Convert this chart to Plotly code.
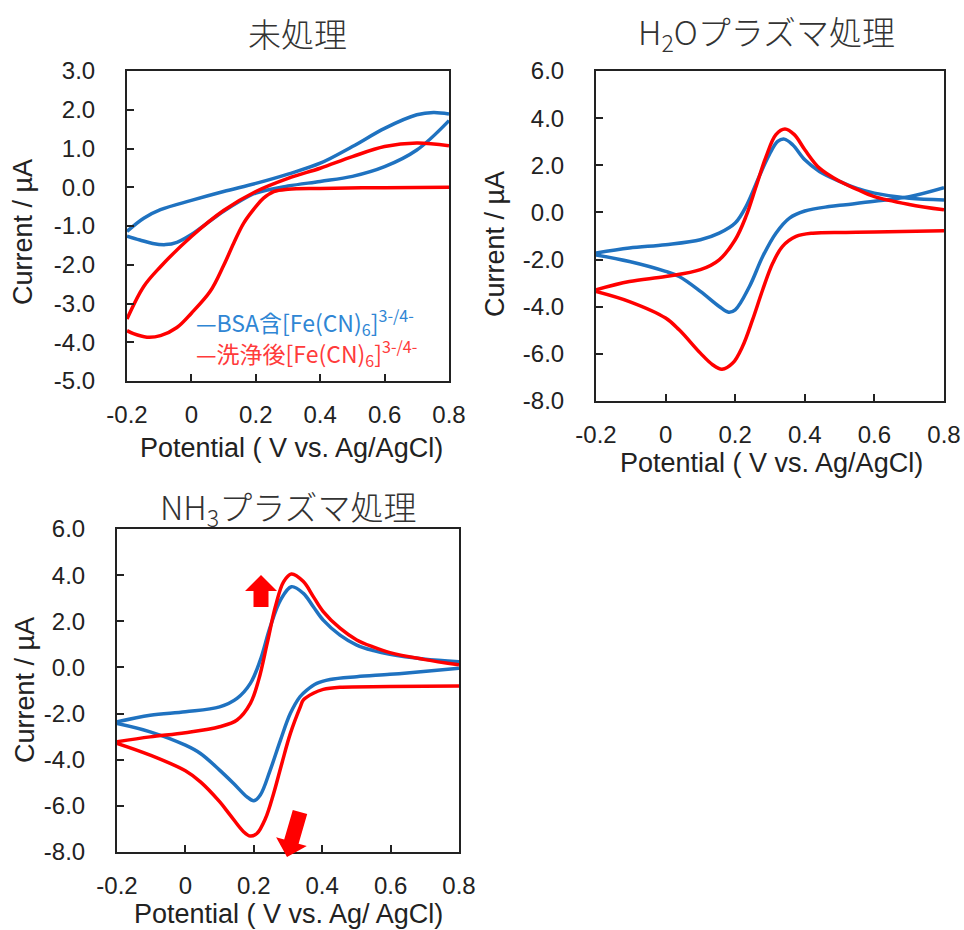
import plotly.graph_objects as go
import math

W, H = 964, 930

# ---------------- data ----------------
# Panel 1: 未処理
p1_blue_x = [-0.2, -0.148, -0.096, 0.0, 0.1, 0.2, 0.3, 0.4, 0.5, 0.6, 0.7, 0.752, 0.8, None,
             0.8, 0.7, 0.6, 0.5, 0.4, 0.3, 0.2, 0.15, 0.1, 0.05, 0.0, -0.045, -0.08, -0.12, -0.16, -0.2]
p1_blue_y = [-1.14, -0.80, -0.58, -0.34, -0.11, 0.10, 0.34, 0.62, 1.05, 1.52, 1.87, 1.93, 1.89, None,
             1.72, 0.96, 0.53, 0.28, 0.15, 0.03, -0.15, -0.36, -0.62, -0.92, -1.22, -1.42, -1.48, -1.45, -1.36, -1.26]
p1_red_x = [-0.2, -0.148, -0.096, 0.0, 0.1, 0.2, 0.3, 0.4, 0.5, 0.6, 0.7, 0.8, None,
            0.8, 0.6, 0.4, 0.3, 0.256, 0.224, 0.2, 0.162, 0.131, 0.1, 0.059, 0.0, -0.045, -0.096, -0.138, -0.18, -0.2]
p1_red_y = [-3.40, -2.56, -2.05, -1.27, -0.60, -0.11, 0.23, 0.49, 0.79, 1.05, 1.14, 1.07, None,
            0.0, -0.01, -0.03, -0.05, -0.11, -0.28, -0.50, -0.93, -1.45, -2.02, -2.68, -3.25, -3.62, -3.83, -3.87, -3.78, -3.70]

# Panel 2: H2Oプラズマ処理
p2_blue_x = [-0.2, -0.104, 0.0, 0.1, 0.154, 0.2, 0.231, 0.269, 0.298, 0.322, 0.341, 0.365, 0.4, 0.442, 0.5, 0.55, 0.6, 0.7, 0.8, None,
             0.8, 0.7, 0.6, 0.518, 0.47, 0.4, 0.356, 0.317, 0.279, 0.241, 0.2, 0.181, 0.154, 0.1, 0.039, 0.0, -0.104, -0.2]
p2_blue_y = [-1.72, -1.51, -1.37, -1.16, -0.88, -0.45, 0.25, 1.53, 2.45, 3.01, 3.11, 2.87, 2.23, 1.74, 1.32, 1.02, 0.82, 0.60, 0.53, None,
             1.05, 0.67, 0.47, 0.33, 0.25, 0.06, -0.24, -0.88, -1.87, -3.14, -4.13, -4.23, -3.99, -3.35, -2.72, -2.50, -2.08, -1.80]
p2_red_x = [-0.2, -0.104, 0.0, 0.1, 0.154, 0.2, 0.231, 0.26, 0.289, 0.317, 0.343, 0.37, 0.4, 0.442, 0.5, 0.55, 0.6, 0.7, 0.8, None,
            0.8, 0.6, 0.518, 0.423, 0.375, 0.336, 0.308, 0.279, 0.25, 0.221, 0.193, 0.162, 0.135, 0.1, 0.039, 0.0, -0.104, -0.2]
p2_red_y = [-3.28, -2.93, -2.72, -2.43, -2.01, -1.16, -0.17, 1.10, 2.38, 3.30, 3.54, 3.30, 2.66, 1.88, 1.32, 0.98, 0.67, 0.34, 0.11, None,
            -0.78, -0.83, -0.85, -0.88, -1.02, -1.44, -2.15, -3.28, -4.55, -5.69, -6.39, -6.65, -6.46, -5.97, -4.98, -4.48, -3.78, -3.35]

# Panel 3: NH3プラズマ処理
p3_blue_x = [-0.2, -0.103, 0.0, 0.1, 0.151, 0.19, 0.219, 0.248, 0.278, 0.31, 0.345, 0.374, 0.403, 0.452, 0.501, 0.55, 0.598, 0.696, 0.8, None,
             0.8, 0.696, 0.598, 0.501, 0.423, 0.384, 0.355, 0.335, 0.307, 0.278, 0.248, 0.219, 0.2, 0.18, 0.141, 0.1, 0.044, 0.0, -0.103, -0.2]
p3_blue_y = [-2.36, -2.07, -1.92, -1.71, -1.34, -0.69, 0.32, 1.76, 2.92, 3.50, 3.21, 2.63, 2.05, 1.40, 0.97, 0.73, 0.57, 0.37, 0.25, None,
             -0.04, -0.18, -0.30, -0.40, -0.52, -0.69, -0.98, -1.27, -1.99, -3.15, -4.45, -5.53, -5.78, -5.61, -5.03, -4.45, -3.73, -3.37, -2.79, -2.43]
p3_red_x = [-0.2, -0.103, 0.0, 0.1, 0.151, 0.19, 0.214, 0.239, 0.263, 0.287, 0.31, 0.345, 0.374, 0.403, 0.452, 0.501, 0.55, 0.598, 0.696, 0.8, None,
            0.8, 0.598, 0.452, 0.403, 0.374, 0.345, 0.336, 0.307, 0.282, 0.258, 0.234, 0.209, 0.19, 0.17, 0.131, 0.1, 0.044, 0.0, -0.103, -0.2]
p3_red_y = [-3.22, -3.01, -2.83, -2.57, -2.28, -1.56, -0.55, 1.04, 2.63, 3.71, 4.05, 3.72, 3.07, 2.42, 1.70, 1.19, 0.88, 0.64, 0.35, 0.11, None,
            -0.80, -0.83, -0.86, -0.95, -1.12, -1.41, -1.71, -2.86, -4.16, -5.46, -6.55, -7.20, -7.31, -7.12, -6.40, -5.82, -4.96, -4.48, -3.80, -3.29]

x_ticks = [-0.2, 0.0, 0.2, 0.4, 0.6, 0.8]
x_ticktext = ["-0.2", "0", "0.2", "0.4", "0.6", "0.8"]
y1_ticks = [3.0, 2.0, 1.0, 0.0, -1.0, -2.0, -3.0, -4.0, -5.0]
y23_ticks = [6.0, 4.0, 2.0, 0.0, -2.0, -4.0, -6.0, -8.0]

titles = ["未処理", "H<sub>2</sub>Oプラズマ処理", "NH<sub>3</sub>プラズマ処理"]
xtitles = ["Potential ( V vs. Ag/AgCl)", "Potential ( V vs. Ag/AgCl)", "Potential ( V vs. Ag/ AgCl)"]
ytitle = "Current / µA"
legend_labels = ["—BSA含[Fe(CN)<sub>6</sub>]<sup>3-/4-</sup>",
                 "—洗浄後[Fe(CN)<sub>6</sub>]<sup>3-/4-</sup>"]

BLUE = "#1f72c0"
RED = "#ff0000"
LEG_BLUE = "#2f86d4"
LEG_RED = "#ff3b3b"
NUMFONT = "Liberation Sans, Arial, sans-serif"
JPFONT = "Noto Sans CJK JP, sans-serif"

def fx(p):
    return p / W

def fy(p):
    return 1 - p / H

def ylab(v):
    return f"{v:.1f}"

# panel frames in pixels: (left, right, top, bottom)
frames = [(127, 449, 71, 381), (596, 944, 71, 401), (117, 459, 529, 852)]

fig = go.Figure()
series = [
    (p1_blue_x, p1_blue_y, p1_red_x, p1_red_y),
    (p2_blue_x, p2_blue_y, p2_red_x, p2_red_y),
    (p3_blue_x, p3_blue_y, p3_red_x, p3_red_y),
]
for i, (bx, by, rx, ry) in enumerate(series):
    suf = "" if i == 0 else str(i + 1)
    fig.add_trace(go.Scatter(x=bx, y=by, mode="lines", xaxis="x" + suf, yaxis="y" + suf,
                             line=dict(color=BLUE, width=3.5, shape="spline", smoothing=1.0),
                             showlegend=False, connectgaps=False))
    fig.add_trace(go.Scatter(x=rx, y=ry, mode="lines", xaxis="x" + suf, yaxis="y" + suf,
                             line=dict(color=RED, width=3.5, shape="spline", smoothing=1.0),
                             showlegend=False, connectgaps=False))

layout = dict(width=W, height=H, margin=dict(l=0, r=0, t=0, b=0, pad=0, autoexpand=False),
              paper_bgcolor="white", plot_bgcolor="white", showlegend=False)

yranges = [(-5, 3), (-8, 6), (-8, 6)]
ytickss = [y1_ticks, y23_ticks, y23_ticks]
for i, (l, r, t, b) in enumerate(frames):
    suf = "" if i == 0 else str(i + 1)
    ax = dict(domain=[fx(l), fx(r)], range=[-0.2, 0.8], anchor="y" + suf, automargin=False,
              showline=True, linecolor="#222222", linewidth=2, mirror=True,
              ticks="inside", ticklen=7, tickwidth=1.5, tickcolor="#222222",
              tickvals=x_ticks, ticktext=x_ticktext, showgrid=False, zeroline=False,
              tickfont=dict(family=NUMFONT, size=24, color="#222222"),
              ticklabelstandoff=11)
    ay = dict(domain=[fy(b), fy(t)], range=list(yranges[i]), anchor="x" + suf, automargin=False,
              showline=True, linecolor="#222222", linewidth=2, mirror=True,
              ticks="inside", ticklen=7, tickwidth=1.5, tickcolor="#222222",
              tickvals=ytickss[i], ticktext=[ylab(v) for v in ytickss[i]],
              showgrid=False, zeroline=False,
              tickfont=dict(family=NUMFONT, size=24, color="#222222"),
              ticklabelstandoff=25)
    layout["xaxis" + suf] = ax
    layout["yaxis" + suf] = ay

fig.update_layout(**layout)

ann = []
# panel titles
title_pos = [(297, 33), (766, 33), (288, 508)]
for txt, (x, y) in zip(titles, title_pos):
    ann.append(dict(text=txt, x=fx(x), y=fy(y), xref="paper", yref="paper",
                    showarrow=False, xanchor="center", yanchor="middle",
                    font=dict(family=JPFONT, size=33, color="#333333", weight=300)))
# x-axis titles
xt_pos = [(291, 448), (771, 463), (288, 914)]
for txt, (x, y) in zip(xtitles, xt_pos):
    ann.append(dict(text=txt, x=fx(x), y=fy(y), xref="paper", yref="paper",
                    showarrow=False, xanchor="center", yanchor="middle",
                    font=dict(family=NUMFONT, size=27, color="#222222")))
# y-axis titles
yt_pos = [(23, 232), (495, 244), (25, 690)]
for (x, y) in yt_pos:
    ann.append(dict(text=ytitle, x=fx(x), y=fy(y), xref="paper", yref="paper",
                    showarrow=False, xanchor="center", yanchor="middle", textangle=-90,
                    font=dict(family=NUMFONT, size=27, color="#222222")))
# legend texts
for txt, col, y in zip(legend_labels, [LEG_BLUE, LEG_RED], [322, 353]):
    ann.append(dict(text=txt, x=fx(194), y=fy(y), xref="paper", yref="paper",
                    showarrow=False, xanchor="left", yanchor="middle",
                    font=dict(family=JPFONT, size=23, color=col)))
fig.update_layout(annotations=ann)

# block arrows (decorations) in pixel offsets anchored in paper coords
def poly_path(pts):
    return "M " + " L ".join(f"{x:.1f},{y:.1f}" for x, y in pts) + " Z"

def arrow_pts(tip, tail, head_w=32, head_l=16, shaft_w=15):
    tx, ty = tip
    sx, sy = tail
    L = math.hypot(tx - sx, ty - sy)
    ux, uy = (tx - sx) / L, (ty - sy) / L
    nx, ny = -uy, ux
    bx, by = tx - ux * head_l, ty - uy * head_l
    pts = [
        (sx + nx * shaft_w / 2, sy + ny * shaft_w / 2),
        (bx + nx * shaft_w / 2, by + ny * shaft_w / 2),
        (bx + nx * head_w / 2, by + ny * head_w / 2),
        (tx, ty),
        (bx - nx * head_w / 2, by - ny * head_w / 2),
        (bx - nx * shaft_w / 2, by - ny * shaft_w / 2),
        (sx - nx * shaft_w / 2, sy - ny * shaft_w / 2),
    ]
    return [(x - tx, -(y - ty)) for x, y in pts]

shapes = []
for tip, tail in [((261, 575), (261, 607)), ((287, 857), (300, 812))]:
    shapes.append(dict(type="path", xref="paper", yref="paper",
                       xsizemode="pixel", ysizemode="pixel",
                       xanchor=fx(tip[0]), yanchor=fy(tip[1]),
                       path=poly_path(arrow_pts(tip, tail)),
                       fillcolor=RED, line=dict(width=0), layer="above"))
fig.update_layout(shapes=shapes)

fig.write_html("out.html")
